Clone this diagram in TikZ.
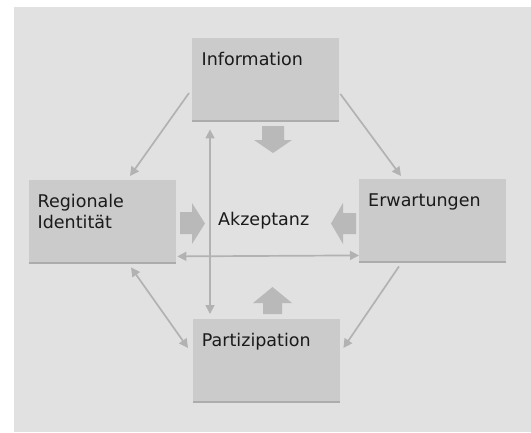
\documentclass[tikz,border=0pt]{standalone}
\usepackage{fontspec}
\setmainfont{DejaVu Sans}
\usetikzlibrary{arrows.meta,shadows}
\definecolor{bgc}{HTML}{E1E1E1}
\definecolor{boxc}{HTML}{CBCBCB}
\definecolor{linec}{HTML}{B2B2B2}
\definecolor{blockc}{HTML}{B9B9B9}
\definecolor{txtc}{HTML}{1A1A1A}
\tikzset{
  box/.style={draw=none, fill=boxc, minimum width=147pt, minimum height=82pt, inner sep=0pt,
    anchor=north west, drop shadow={shadow xshift=0pt, shadow yshift=-1.5pt, opacity=0.35, fill=black!70}},
  lbl/.style={anchor=base west, inner sep=0pt, text=txtc, font=\fontsize{17.5}{20.7}\selectfont, align=left},
  conn/.style={draw=linec, line width=1.7pt, -{Triangle[length=9pt,width=9pt]}},
  dconn/.style={draw=linec, line width=1.7pt, {Triangle[length=9pt,width=9pt]}-{Triangle[length=9pt,width=9pt]}},
  blk/.style={fill=blockc, draw=none}
}
\begin{document}
\begin{tikzpicture}[x=1pt,y=-1pt]
\useasboundingbox (0,0) rectangle (531,432);
\fill[bgc] (14,7) rectangle (531,432);

\node[box] (info) at (192,38) {};
\node[box] (reg)  at (29,180) {};
\node[box] (erw)  at (359,179) {};
\node[box] (part) at (193,319) {};

\node[lbl] (tinfo) at ([shift={(9.5,27.7)}]info.north west) {Information};
\node[lbl] (treg)  at ([shift={(8.5,48.4)}]reg.north west) {Regionale\\Identität};
\node[lbl] (terw)  at ([shift={(9,27.7)}]erw.north west) {Erwartungen};
\node[lbl] (tpart) at ([shift={(8.7,27.7)}]part.north west) {Partizipation};
\node[lbl] (akz) at (218,225) {Akzeptanz};

% connectors
\draw[conn] ([shift={(-3,55)}]info.north west) -- ([shift={(101,-4)}]reg.north west);
\draw[conn] ([shift={(1,56)}]info.north east) -- ([shift={(42,-3)}]erw.north west);
\draw[dconn] ([shift={(18,9)}]info.south west) -- ([shift={(17,-5)}]part.north west);
\draw[dconn] ([shift={(1,-6)}]reg.south east) -- ([shift={(0,-6)}]erw.south west);
\draw[dconn] ([shift={(102,5)}]reg.south west) -- ([shift={(-5,29)}]part.north west);
\draw[conn] ([shift={(40,5)}]erw.south west) -- ([shift={(3,29)}]part.north east);

% block arrows
\fill[blk] (262,126) -- (284,126) -- (284,140) -- (292,140) -- (273,153) -- (254,140) -- (262,140) -- cycle;
\fill[blk] (263,314) -- (282,314) -- (282,303) -- (292,303) -- (272.5,287) -- (253,303) -- (263,303) -- cycle;
\fill[blk] (180,212) -- (192,212) -- (192,203) -- (205,223.5) -- (192,244) -- (192,234) -- (180,234) -- cycle;
\fill[blk] (356,213) -- (343,213) -- (343,203) -- (331,223.5) -- (343,244) -- (343,234) -- (356,234) -- cycle;
\end{tikzpicture}
\end{document}
